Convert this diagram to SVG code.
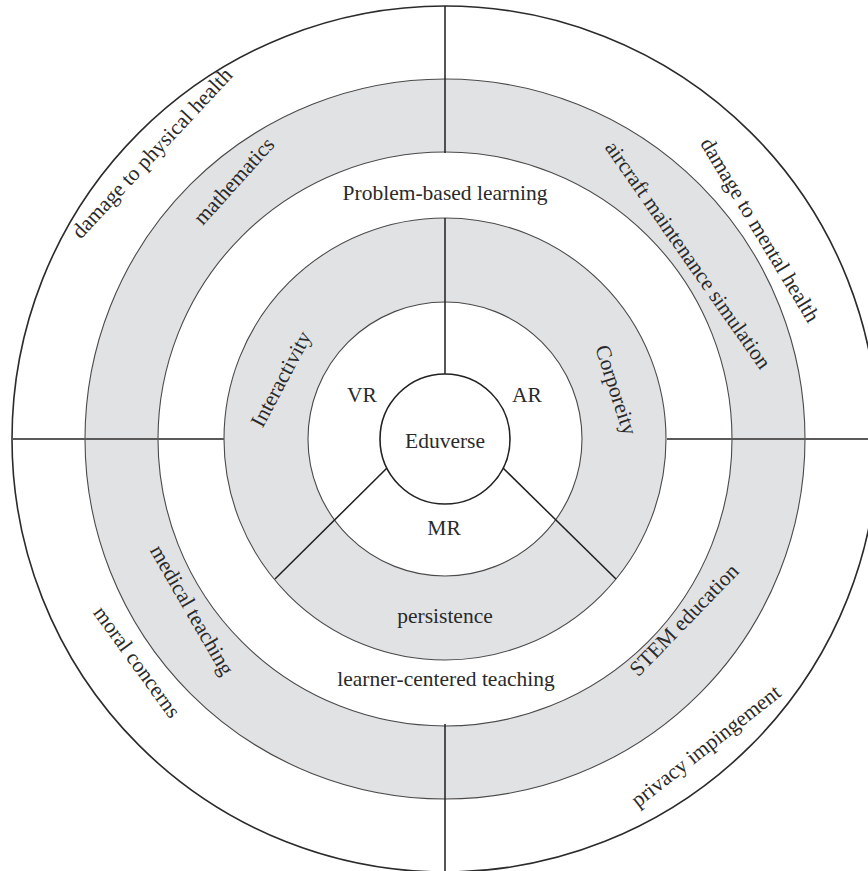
<svg xmlns="http://www.w3.org/2000/svg" width="868" height="871" viewBox="0 0 868 871">
  <style>
    .ring-white { fill: #ffffff; stroke: #2b2b2b; stroke-width: 1.6; }
    .ring-gray { fill: #e1e2e4; stroke: #4a4a4a; stroke-width: 1.1; }
    .ring-inner { fill: #ffffff; stroke: #4a4a4a; stroke-width: 1.1; }
    .hub { fill: #ffffff; stroke: #222222; stroke-width: 1.6; }
    .lbl { font-family: "Liberation Serif", "DejaVu Serif", serif; font-size: 21.5px; fill: #2a2a2a; text-anchor: middle; dominant-baseline: central; }
    .div-h { stroke: #5a5a5a; stroke-width: 2.2; fill: none; }
    .div { stroke: #1e1e1e; stroke-width: 1.5; fill: none; }
  </style>

  <rect width="868" height="871" fill="#ffffff"/>

  <!-- concentric bands, centre (445,439) -->
  <g id="risks-band">
    <circle class="ring-white" cx="445" cy="439" r="433"/>
  </g>
  <g id="applications-band">
    <circle class="ring-gray" cx="445" cy="439" r="360"/>
  </g>
  <g id="pedagogy-band">
    <circle class="ring-inner" cx="445" cy="439" r="287"/>
  </g>
  <g id="features-band">
    <circle class="ring-gray" cx="445" cy="439" r="221"/>
  </g>
  <g id="tech-band">
    <circle class="ring-inner" cx="445" cy="439" r="137"/>
  </g>

  <!-- divider lines -->
  <g id="connectors">
    <line class="div-h" x1="12" y1="439" x2="224" y2="439"/>
    <line class="div-h" x1="667" y1="439" x2="868" y2="439"/>
    <line class="div" x1="445" y1="6" x2="445" y2="153"/>
    <line class="div" x1="445" y1="218" x2="445" y2="374"/>
    <line class="div" x1="445" y1="724" x2="445" y2="871"/>
    <line class="div" x1="387" y1="468" x2="275" y2="579"/>
    <line class="div" x1="503" y1="468" x2="616" y2="579"/>
  </g>

  <g id="eduverse">
    <circle class="hub" cx="445" cy="439" r="65"/>
    <text class="lbl" x="445" y="441">Eduverse</text>
  </g>

  <!-- technologies -->
  <g id="vr"><text class="lbl" x="362" y="395">VR</text></g>
  <g id="ar"><text class="lbl" x="527" y="395">AR</text></g>
  <g id="mr"><text class="lbl" x="444" y="528">MR</text></g>

  <!-- features -->
  <g id="interactivity"><text class="lbl" transform="translate(281,379) rotate(-62)">Interactivity</text></g>
  <g id="corporeity"><text class="lbl" transform="translate(616,390) rotate(72)">Corporeity</text></g>
  <g id="persistence"><text class="lbl" x="445" y="616">persistence</text></g>

  <!-- pedagogy -->
  <g id="problem-based"><text class="lbl" x="445" y="193">Problem-based learning</text></g>
  <g id="learner-centered"><text class="lbl" x="446" y="679">learner-centered teaching</text></g>

  <!-- applications -->
  <g id="mathematics"><text class="lbl" transform="translate(234,181) rotate(-48)">mathematics</text></g>
  <g id="aircraft"><text class="lbl" transform="translate(688,255) rotate(55)">aircraft maintenance simulation</text></g>
  <g id="medical"><text class="lbl" transform="translate(192,610) rotate(60)">medical teaching</text></g>
  <g id="stem"><text class="lbl" transform="translate(684,620) rotate(-46)">STEM education</text></g>

  <!-- risks -->
  <g id="physical-health"><text class="lbl" transform="translate(152,153) rotate(-47)">damage to physical health</text></g>
  <g id="mental-health"><text class="lbl" transform="translate(760,230) rotate(59)">damage to mental health</text></g>
  <g id="moral"><text class="lbl" transform="translate(137,662) rotate(54)">moral concerns</text></g>
  <g id="privacy"><text class="lbl" transform="translate(706,746) rotate(-38)">privacy impingement</text></g>
</svg>
